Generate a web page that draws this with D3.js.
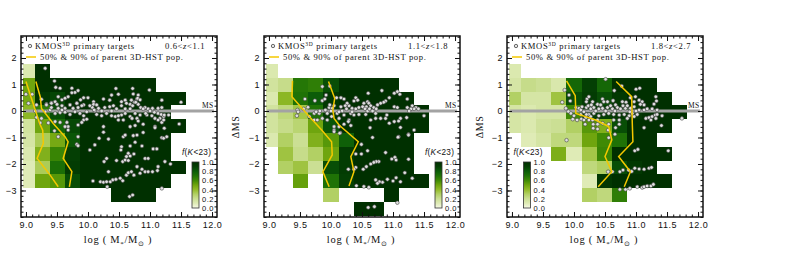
<!DOCTYPE html>
<html>
<head>
<meta charset="utf-8">
<title>KMOS3D targets vs parent population</title>
<script src="https://d3js.org/d3.v7.min.js"></script>
<style>
body { margin: 0; background: #fff; }
text { fill: #111; font-family: 'Liberation Serif', serif; }
.ax text { font-family: 'Liberation Sans', sans-serif; font-size: 9px; letter-spacing: .5px; }
.ax line { stroke: #111; stroke-width: 1; }
</style>
</head>
<body>
<script>
// bins of the K<23 completeness map
var massEdges = [8.945, 9.15, 9.393, 9.636, 9.879, 10.122, 10.365, 10.608, 10.851, 11.094, 11.337, 11.58, 11.823]
var dmsEdges = [1.77, 1.25, 0.73, 0.21, -0.31, -0.83, -1.35, -1.87, -2.39, -2.91, -3.43, -3.95]
var n = null

var fracLow = [
  [.12, 1, n, n, n, n, n, n, n, n, n, n],
  [.5, 1, 1, 1, 1, 1, 1, 1, 1, n, n, n],
  [.48, .95, .88, 1, 1, 1, 1, 1, 1, 1, 1, n],
  [.42, .65, .85, 1, 1, 1, 1, 1, 1, 1, n, n],
  [.17, .5, .75, .87, 1, 1, 1, 1, 1, 1, 1, n],
  [.15, .32, .48, .82, 1, 1, 1, 1, 1, 1, n, n],
  [.12, .45, .62, .9, 1, 1, 1, 1, 1, 1, n, n],
  [.1, .32, .72, .92, 1, 1, 1, 1, 1, 1, 1, n],
  [.1, .5, .55, .85, 1, 1, 1, 1, 1, 1, n, n],
  [n, n, n, n, n, n, 1, 1, 1, n, n, n],
  [n, n, n, n, n, n, n, n, n, n, n, n]
]
var fracMid = [
  [.12, n, n, n, n, n, n, n, n, n, n, n],
  [.17, .22, .68, .65, .85, 1, 1, 1, 1, n, n, n],
  [.12, .42, .7, .8, .95, 1, 1, 1, 1, 1, n, n],
  [.17, .25, .35, .7, .95, 1, 1, 1, 1, 1, 1, n],
  [.17, .22, .27, .5, .82, .98, 1, 1, 1, 1, 1, n],
  [.12, .3, .2, .45, .55, .78, 1, 1, 1, 1, n, n],
  [n, .36, .22, .3, .5, .92, 1, 1, 1, 1, n, n],
  [n, .3, .36, .2, .85, .92, 1, 1, 1, 1, n, n],
  [n, n, .52, n, .7, .9, 1, 1, 1, 1, 1, n],
  [n, n, n, n, .3, n, n, n, 1, n, n, n],
  [n, n, n, n, n, n, 1, 1, n, n, n, n]
]
var fracHigh = [
  [.12, n, n, n, n, n, n, n, n, n, n, n],
  [.15, .22, .2, .13, .75, .9, .75, 1, 1, 1, n, n],
  [.3, .15, .15, .36, .85, .92, .85, .95, 1, 1, 1, n],
  [.15, .12, .15, .15, .6, .9, .9, .95, .96, 1, 1, 1],
  [.15, .12, .18, .2, .3, .55, .45, .85, 1, 1, 1, n],
  [n, .1, .15, .25, .25, .5, .6, .7, 1, 1, n, n],
  [n, n, n, .46, .1, .35, .62, 1, 1, 1, 1, n],
  [n, n, n, n, n, .25, .3, .85, .95, 1, n, n],
  [n, n, n, n, n, .1, .95, 1, 1, 1, 1, n],
  [n, n, n, n, n, .3, .25, .65, n, n, n, n],
  [n, n, n, n, n, n, n, n, n, n, n, n]
]

// parent population curves (mass, dMS)
var p50Low = [[9.0, 1.11], [9.07, .6], [9.15, .04], [9.22, -.47], [9.27, -.72], [9.28, -1.22], [9.18, -1.79], [9.39, -2.42], [9.52, -2.86]]
var p90Low = [[9.16, 1.11], [9.23, .54], [9.25, .1], [9.44, -.47], [9.63, -.97], [9.68, -1.16], [9.6, -1.79], [9.74, -2.29], [9.7, -2.86]]
var p50Mid = [[9.38, 1.14], [9.37, .54], [9.65, -.21], [9.85, -.72], [10.01, -1.16], [10.02, -1.66], [9.87, -2.29], [9.97, -2.86]]
var p90Mid = [[9.96, 1.11], [10.06, .48], [10.03, .04], [10.05, -.28], [10.13, -.53], [10.44, -1.16], [10.32, -1.72], [10.37, -2.29], [10.29, -2.83]]
var p50High = [[9.88, 1.14], [10.02, .58], [10.03, -.09], [10.35, -.34], [10.56, -.59], [10.61, -1.09], [10.5, -1.72], [10.61, -2.29], [10.39, -2.86]]
var p90High = [[10.68, 1.11], [10.93, .54], [10.94, -.47], [10.95, -1.16], [10.72, -1.72], [10.91, -2.29], [10.81, -2.86]]

// KMOS3D targets (mass, dMS)
var kmosLow = [
  [9.31, 1.61], [9.0, .63], [9.1, .63], [9.04, .29], [9.46, 1.13], [9.17, .23], [9.25, .44], [9.33, .26], [9.41, .31], [9.47, .35],
  [9.48, .89], [9.55, .86], [9.52, .54], [9.58, .42], [9.63, .48], [9.68, .54], [9.74, .86], [9.84, .77], [9.79, .7], [9.74, .69],
  [9.88, .42], [9.82, .29], [10.09, .35], [10.45, .85], [10.72, .85], [10.99, .79], [10.49, .63], [10.73, .64], [10.25, .45], [10.38, .6],
  [10.35, .41], [10.81, .6], [10.79, .45], [10.7, .41], [10.6, .41], [10.54, .35], [11.19, .41], [11.5, .33], [9.93, .5], [10.0, .5],
  [9.33, .23], [9.41, .29], [9.5, .25], [9.58, .2], [9.63, .1], [9.71, .23], [9.82, .29], [9.84, .13], [9.93, .23], [10.09, .25],
  [10.14, .23], [10.07, .13], [10.17, .1], [10.27, .13], [10.35, .16], [10.41, .2], [10.54, .2], [10.62, .29], [10.68, .25], [10.75, .33],
  [10.81, .25], [10.85, .13], [10.92, .13], [10.97, .08], [11.04, .1], [11.13, .1], [11.19, .13], [9.15, 0], [9.31, -.03], [9.39, .04],
  [9.47, -.09], [9.55, -.06], [9.63, -.05], [9.71, -.13], [9.79, -.03], [9.87, -.09], [9.93, -.18], [10.11, 0], [10.14, -.13], [10.22, -.18],
  [10.38, -.18], [10.44, -.21], [10.54, -.15], [10.6, -.09], [10.68, -.21], [10.76, -.09], [10.84, -.15], [10.95, -.15], [11.03, -.18], [11.16, -.28],
  [11.22, -.21], [11.3, -.15], [11.13, -.09], [9.17, -.24], [9.25, -.28], [9.47, -.4], [9.55, -.43], [9.66, -.43], [9.93, -.34], [9.98, -.31],
  [9.9, -.43], [10.49, -.34], [10.57, -.34], [10.79, -.28], [10.81, -.38], [10.68, -.59], [10.76, -.55], [10.89, -.5], [11.08, -.59], [11.19, -.43],
  [11.22, -.34], [11.47, -.49], [10.25, -.59], [9.84, -.53], [9.68, -.59], [9.63, -.59], [9.23, -.45], [9.36, -.45], [9.46, -.75], [9.52, -.97],
  [9.68, -.72], [9.84, -.97], [10.25, -.8], [10.33, -1.06], [10.57, -.97], [10.6, -.91], [10.73, -.93], [10.89, -.81], [11.08, -.63], [11.19, -1.01],
  [11.23, -.65], [9.82, -1.26], [9.84, -1.31], [10.03, -1.47], [10.11, -1.28], [10.54, -1.35], [10.53, -1.47], [10.68, -1.32], [10.76, -1.18], [10.87, -1.32],
  [11.05, -1.43], [11.11, -1.43], [10.65, -1.6], [10.18, -1.03], [10.3, -1.79], [10.26, -1.91], [10.46, -1.87], [10.56, -1.91], [10.6, -1.85], [10.62, -1.72],
  [10.68, -1.7], [10.74, -1.62], [10.65, -1.87], [10.92, -1.79], [10.97, -1.79], [10.79, -.91], [11.22, -1.03], [11.27, -.97], [10.33, -2.29], [10.08, -2.64],
  [10.2, -2.67], [10.25, -2.69], [10.3, -2.67], [10.36, -2.67], [10.4, -2.6], [10.45, -2.58], [10.52, -2.54], [10.56, -2.63], [10.31, -2.86], [10.62, -2.42],
  [10.65, -2.33], [10.7, -2.29], [10.74, -2.42], [10.79, -2.1], [10.84, -2.35], [10.87, -2.2], [10.92, -2.29], [10.97, -2.29], [11.04, -2.29], [11.12, -2.25],
  [11.13, -2.1], [11.24, -1.91], [11.33, -2.0], [11.19, -2.92], [10.67, -3.23], [10.72, -3.17],
  [10.03, .2], [10.1, .04], [10.38, 0], [10.46, .08], [10.6, .08], [10.68, .08], [10.72, .2], [10.77, .33], [10.8, .48], [10.84, .42],
  [10.89, .08], [10.93, -.09], [11.0, 0], [11.07, -.05], [11.18, -.13], [11.23, -.15], [9.41, .13], [9.52, .1], [9.58, .04], [9.76, .1],
  [9.9, .2], [9.98, -.03], [10.22, 0], [10.3, -.09], [10.49, -.18], [10.71, -.28], [11.08, -.28], [11.13, -.34]
]
var kmosMid = [
  [9.86, .92], [9.98, .94], [9.58, .45], [9.74, .39], [9.86, .39], [9.92, .6], [9.9, .45], [10.09, .5], [10.16, .5], [10.21, .45],
  [10.4, .5], [10.43, .41], [10.37, .38], [10.6, .67], [10.82, .77], [11.07, .73], [10.94, .5], [11.02, .67], [11.11, .63], [11.23, .45],
  [10.88, .38], [10.85, .33], [10.8, .29], [10.75, .23], [10.59, .35], [10.53, .29], [10.61, .29], [10.64, .2], [10.29, .2], [10.26, .29],
  [10.23, .2], [10.16, .16], [9.97, .13], [9.63, .14], [9.46, .04], [9.56, .08], [9.98, .23], [10.05, .2], [10.02, .1], [10.34, .1],
  [10.4, .08], [10.45, .13], [10.53, .13], [10.57, .16], [10.69, .13], [11.02, .16], [11.07, .13], [11.23, .13], [11.31, .2], [11.37, .13],
  [11.41, .08], [11.34, .08], [11.29, .08], [11.5, -.18], [9.47, -.03], [9.45, -.18], [9.65, -.21], [9.73, -.09], [9.73, -.34], [9.78, -.34],
  [9.86, -.28], [9.81, -.09], [9.94, -.34], [9.94, -.09], [10.01, -.21], [10.1, -.09], [10.13, -.28], [10.21, -.15], [10.29, -.34], [10.32, -.09],
  [10.37, -.15], [10.45, -.13], [10.56, -.13], [10.64, -.34], [10.72, -.28], [10.8, -.28], [10.88, -.28], [10.9, -.15], [10.72, -.09], [11.12, -.28],
  [11.22, -.25], [10.94, -.46], [11.02, -.4], [11.09, -.38], [11.12, -.62], [10.63, -.63], [11.34, -.72], [11.25, -.88], [11.09, -.97], [10.67, -1.0],
  [10.05, -.59], [10.05, -.72], [10.05, -.78], [10.13, -.59], [10.15, -.82], [10.21, -.5], [10.28, -.4], [10.32, -.55], [10.14, -.84], [11.08, -.99],
  [11.25, -.91], [10.49, -1.26], [10.59, -1.5], [10.4, -1.62], [10.49, -1.62], [10.88, -1.57], [10.98, -1.81], [11.03, -1.75], [11.05, -1.85], [11.25, -1.82],
  [10.77, -1.91], [10.73, -1.91], [10.69, -1.94], [10.64, -2.0], [10.57, -2.1], [10.52, -2.2], [10.4, -2.13], [10.37, -2.2], [10.28, -2.2], [11.19, -2.33],
  [11.31, -2.54], [11.05, -2.52], [11.12, -2.67], [11.0, -2.64], [10.91, -2.58], [10.83, -2.69], [10.78, -2.67], [10.72, -2.6], [10.75, -2.73], [10.41, -2.82],
  [10.53, -2.85], [10.61, -2.88], [11.07, -3.46], [10.6, -3.64], [10.7, -3.61],
  [10.51, .16], [10.55, .08], [10.59, 0], [10.62, .08], [10.67, 0], [10.73, .08], [10.25, .08], [10.18, 0], [10.13, -.03], [10.0, 0],
  [9.91, .04], [9.82, 0], [9.76, -.03], [10.34, -.03], [11.26, 0]
]
var kmosHigh = [
  [9.88, -1.1], [9.81, .33], [9.94, .38], [9.92, .6], [9.85, .79], [10.51, 1.2], [10.65, .77], [10.77, .94], [11.0, .82], [11.06, .86],
  [9.87, .1], [9.91, -.02], [10.21, .45], [10.24, .54], [10.2, .35], [10.3, .35], [10.38, .25], [10.46, .45], [10.48, .35], [10.54, .35],
  [10.63, .39], [10.67, .23], [10.78, .35], [10.84, .33], [10.91, .5], [10.99, .54], [11.05, .41], [11.1, .35], [11.13, .23], [11.07, .25],
  [11.32, .54], [11.33, .38], [11.29, .26], [10.03, .13], [10.08, .1], [10.13, .16], [10.2, .13], [10.27, .08], [10.32, .13], [10.4, .08],
  [10.46, .1], [10.54, .13], [10.62, .08], [10.7, .13], [10.75, .08], [10.83, .1], [10.91, .1], [10.97, .16], [11.05, .04], [11.13, .04],
  [11.18, .08], [11.26, .08], [11.34, .04], [9.95, -.09], [10.0, -.18], [9.98, -.31], [10.05, -.34], [10.12, -.3], [10.19, -.25], [10.11, -.13],
  [10.24, -.13], [10.2, -.13], [10.32, -.09], [10.4, -.18], [10.48, -.13], [10.56, -.09], [10.64, -.13], [10.73, -.15], [10.81, -.13], [10.89, -.18],
  [10.94, -.09], [11.02, -.13], [11.16, -.28], [11.21, -.25], [11.26, -.21], [11.31, -.15], [11.34, -.13], [11.74, -.28], [11.42, -.18], [10.16, -.34],
  [10.18, -.5], [10.24, -.34], [10.3, -.34], [10.31, -.5], [10.31, -.65], [10.38, -.5], [10.38, -.68], [10.46, -.46], [10.56, -.5], [10.55, -.72],
  [10.56, -1.01], [10.67, -.63], [10.66, -.88], [10.73, -.34], [10.86, -.28], [10.73, -.5], [11.13, -.63], [11.24, -.34], [11.32, -.28], [11.41, -.55],
  [10.98, -1.5], [11.03, -1.45], [11.52, -1.5], [10.55, -2.29], [10.62, -2.29], [10.74, -2.29], [10.79, -2.23], [10.88, -2.23], [10.93, -2.28], [10.98, -2.16],
  [11.05, -2.19], [11.13, -2.2], [11.21, -2.16], [11.25, -2.13], [10.74, -2.96], [10.83, -2.96], [10.9, -2.92], [11.02, -2.86], [11.1, -2.89], [11.13, -2.86],
  [11.18, -2.83], [11.24, -2.83], [11.28, -2.77],
  [10.11, .04], [10.16, -.03], [10.23, .2], [10.28, .23], [10.35, 0], [10.43, .23], [10.51, 0], [10.59, .2], [10.66, 0], [10.79, .2],
  [10.86, .2], [10.9, -.03], [10.97, .35], [11.0, 0], [10.27, -.21], [10.38, -.34], [10.64, -.34], [10.97, -.21]
]

var zLabels = [['0.6<', '<1.1'], ['1.1<', '<1.8'], ['1.8<', '<2.7']]
var massTicks = [9, 9.5, 10, 10.5, 11, 11.5, 12]
var dmsTicks = [-3, -2, -1, 0, 1, 2]
var barTicks = [0, .2, .4, .6, .8, 1]
var colorStops = [0, .1, .2, .3, .4, .5, .6, .7, .8, .9, 1]
var colorVals = ['#f6f9e6', '#dfebb6', '#cbdf94', '#b2d064', '#93bb2a', '#6fa50e', '#3f8a05', '#1f7206', '#0b5c08', '#043f04', '#003000']

var W = 196, H = 181
var x = d3.scaleLinear().domain([8.92, 12.08]).range([0, W])
var y = d3.scaleLinear().domain([-4, 2.83]).range([H, 0])
var color = d3.scaleLinear().domain(colorStops).range(colorVals)
var barY = d3.scaleLinear().domain([0, 1]).range([46, 0])

var svg = d3.select('body').append('svg')
  .attr('width', 786)
  .attr('height', 272)

var defs = svg.append('defs')
var grad = defs.append('linearGradient')
  .attr('id', 'fgrad')
  .attr('x1', 0).attr('x2', 0).attr('y1', 1).attr('y2', 0)
grad.selectAll('stop')
  .data(colorStops)
  .enter()
  .append('stop')
  .attr('offset', function (d) { return d })
  .attr('stop-color', function (d) { return color(d) })

function panel(left, frac, points, p50, p90, zText, barX, ylab) {
  var g = svg.append('g').attr('transform', 'translate(' + left + ',36)')

  // completeness map
  frac.forEach(function (row, r) {
    row.forEach(function (v, c) {
      if (v === null) return
      g.append('rect')
        .attr('x', x(massEdges[c]))
        .attr('y', y(dmsEdges[r]))
        .attr('width', x(massEdges[c + 1]) - x(massEdges[c]))
        .attr('height', y(dmsEdges[r + 1]) - y(dmsEdges[r]))
        .attr('fill', color(v))
        .attr('shape-rendering', 'crispEdges')
    })
  })

  // main sequence band
  g.append('line')
    .attr('x1', x(8.97)).attr('x2', x(12.03))
    .attr('y1', y(0)).attr('y2', y(0))
    .attr('stroke', '#a3a3a3')
    .attr('stroke-width', 3.2)

  g.selectAll('circle.kmos')
    .data(points)
    .enter()
    .append('circle')
    .attr('class', 'kmos')
    .attr('cx', function (d) { return x(d[0]) })
    .attr('cy', function (d) { return y(d[1]) })
    .attr('r', 1.8)
    .attr('fill', '#e0e0e0')
    .attr('stroke', '#444')
    .attr('stroke-width', .6)

  var line = d3.line()
    .x(function (d) { return x(d[0]) })
    .y(function (d) { return y(d[1]) })
  ;[p50, p90].forEach(function (p) {
    g.append('path')
      .attr('d', line(p))
      .attr('fill', 'none')
      .attr('stroke', '#f4c800')
      .attr('stroke-width', 1.5)
  })

  // axes, major and minor ticks on all sides
  var minorX = d3.range(9, 12.01, .1)
  var minorY = d3.range(-4, 2.81, .2)
  var noText = function () { return '' }
  function axis(gen, tx, ty) {
    g.append('g').attr('class', 'ax')
      .attr('transform', 'translate(' + tx + ',' + ty + ')')
      .call(gen)
      .call(function (s) { s.select('.domain').remove() })
  }
  axis(d3.axisBottom(x).tickValues(minorX).tickSize(-2.5).tickFormat(noText), 0, H)
  axis(d3.axisTop(x).tickValues(minorX).tickSize(-2.5).tickFormat(noText), 0, 0)
  axis(d3.axisLeft(y).tickValues(minorY).tickSize(-2.5).tickFormat(noText), 0, 0)
  axis(d3.axisRight(y).tickValues(minorY).tickSize(-2.5).tickFormat(noText), W, 0)
  axis(d3.axisBottom(x).tickValues(massTicks).tickSize(-5).tickPadding(5).tickFormat(d3.format('.1f')), 0, H)
  axis(d3.axisTop(x).tickValues(massTicks).tickSize(-5).tickFormat(noText), 0, 0)
  axis(d3.axisLeft(y).tickValues(dmsTicks).tickSize(-5).tickPadding(4).tickFormat(d3.format('d')), 0, 0)
  axis(d3.axisRight(y).tickValues(dmsTicks).tickSize(-5).tickFormat(noText), W, 0)

  g.append('rect')
    .attr('width', W)
    .attr('height', H)
    .attr('fill', 'none')
    .attr('stroke', '#111')
    .attr('stroke-width', 1.5)

  // legend
  g.append('circle')
    .attr('cx', 9).attr('cy', 10).attr('r', 1.7)
    .attr('fill', '#e4e4e4').attr('stroke', '#333').attr('stroke-width', .7)
  var t1 = g.append('text').attr('x', 14).attr('y', 13).attr('font-size', 8.6).attr('letter-spacing', .62)
  t1.append('tspan').text('KMOS')
  t1.append('tspan').attr('dy', -3).attr('font-size', 5.5).text('3D')
  t1.append('tspan').attr('dy', 3).attr('dx', 3).text('primary targets')

  var t2 = g.append('text').attr('x', 144).attr('y', 13).attr('font-size', 8.6).attr('letter-spacing', .62)
  t2.append('tspan').text(zText[0])
  t2.append('tspan').attr('font-style', 'italic').text('z')
  t2.append('tspan').text(zText[1])

  g.append('line')
    .attr('x1', 5).attr('x2', 15).attr('y1', 21).attr('y2', 21)
    .attr('stroke', '#f4c800').attr('stroke-width', 1.5)
  g.append('text')
    .attr('x', 19).attr('y', 24)
    .attr('font-size', 8.6).attr('letter-spacing', .62)
    .text('50% & 90% of parent 3D-HST pop.')

  g.append('text')
    .attr('x', 181).attr('y', 72)
    .attr('font-size', 7.5).attr('letter-spacing', .3)
    .text('MS')

  // colour bar
  var b = g.append('g').attr('transform', 'translate(' + barX + ',126)')
  b.append('rect')
    .attr('width', 7)
    .attr('height', 46)
    .attr('fill', 'url(#fgrad)')
    .attr('stroke', '#333')
    .attr('stroke-width', .8)
  b.append('g').attr('class', 'ax')
    .attr('transform', 'translate(7,0)')
    .call(d3.axisRight(barY).tickValues(barTicks).tickSize(0).tickPadding(3).tickFormat(d3.format('.1f')))
    .call(function (s) {
      s.select('.domain').remove()
      s.selectAll('text').style('font-size', '7.5px')
    })
  var ft = b.append('text').attr('x', -10).attr('y', -7)
    .style('font-family', "'Liberation Sans', sans-serif")
    .attr('font-size', 8.2).attr('letter-spacing', .3)
  ft.append('tspan').attr('font-style', 'italic').text('f')
  ft.append('tspan').text('(')
  ft.append('tspan').attr('font-style', 'italic').text('K')
  ft.append('tspan').text('<23)')

  // axis titles
  var xt = g.append('text')
    .attr('x', W / 2 - 1).attr('y', H + 26)
    .attr('text-anchor', 'middle')
    .attr('font-size', 10.5).attr('letter-spacing', .7)
  xt.append('tspan').text('log ( M')
  xt.append('tspan').attr('dy', 2.5).attr('font-size', 7).text('*')
  xt.append('tspan').attr('dy', -2.5).text('/M')
  xt.append('tspan').attr('dy', 2.5).attr('font-size', 7).style('font-family', "'DejaVu Sans'").text('\u2299')
  xt.append('tspan').attr('dy', -2.5).text(' )')

  if (ylab) {
    svg.append('text')
      .attr('transform', 'translate(' + ylab + ',127) rotate(-90)')
      .attr('text-anchor', 'middle')
      .attr('font-size', 10).attr('letter-spacing', .5)
      .text('\u0394MS')
  }
}

panel(21, fracLow, kmosLow, p50Low, p90Low, zLabels[0], 171, 0)
panel(264, fracMid, kmosMid, p50Mid, p90Mid, zLabels[1], 171, 239)
panel(507, fracHigh, kmosHigh, p50High, p90High, zLabels[2], 16.5, 483)
</script>
</body>
</html>
